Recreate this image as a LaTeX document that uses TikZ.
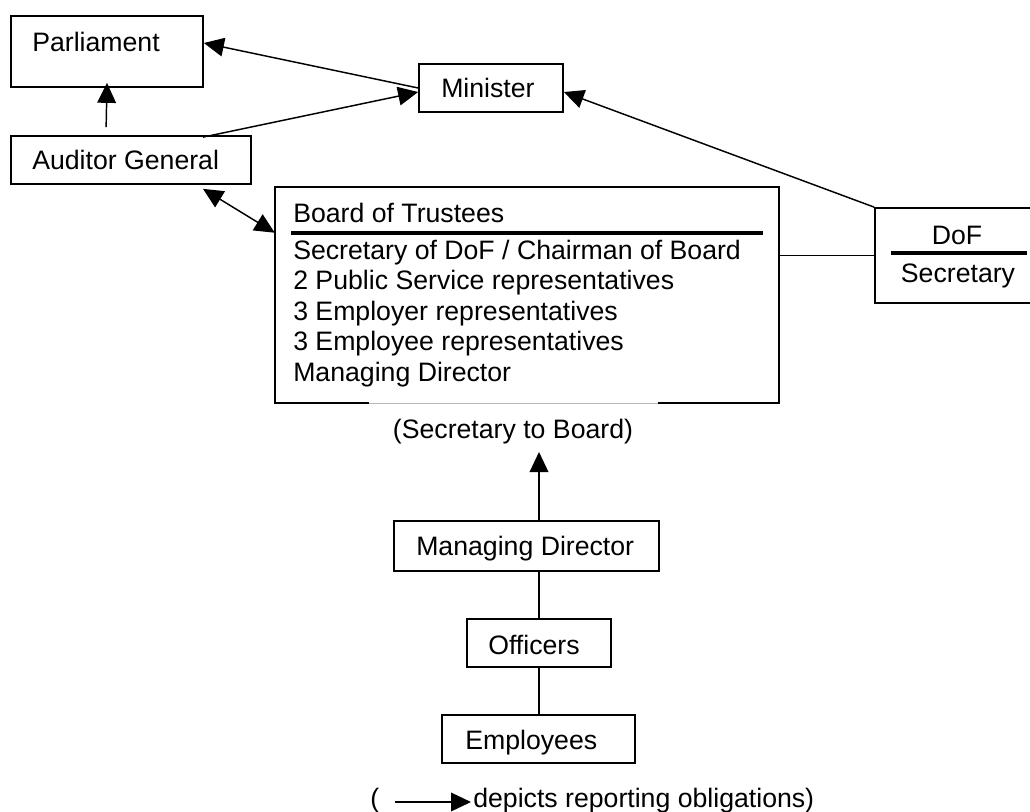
\documentclass[tikz,border=0pt]{standalone}
\usepackage{fontspec}
\setmainfont{Liberation Sans}
\usetikzlibrary{arrows.meta,fit,calc}
\begin{document}
\begin{tikzpicture}[x=0.75pt,y=-0.75pt,
  box/.style={draw, line width=1.3pt, inner sep=0pt},
  frame/.style={inner sep=0pt},
  txt/.style={inner sep=0pt, font=\fontsize{20}{24}\selectfont},
  conn/.style={line width=1.1pt},
  >={Triangle[length=15pt,width=14pt]},
  rep/.style={conn, ->},
  rule/.style={line width=3pt}]
\clip (0,0) rectangle (1030,812);
% boxes
\node[box, fit={(11,16) (203,87)}] (parl) {};
\node[txt, anchor=base west] at (32,52) {Parliament};
\node[box, fit={(419,64) (563,112)}] (min) {};
\node[txt, anchor=base west] at (441,98) {Minister};
\node[box, fit={(11,136) (251,184)}] (aud) {};
\node[txt, anchor=base west] at (32,170) {Auditor General};
% board
\node[frame, fit={(275,187) (779,403)}] (board) {};
\draw[line width=1.3pt] ($(board.south west)+(94,0)$) -| (board.north west) -| (board.south east) -- ($(board.south east)+(-121,0)$);
\draw[gray!55, line width=0.6pt] ($(board.south west)+(94,0)$) -- ($(board.south east)+(-121,0)$);
\node[txt, anchor=base west] at (293,223) {Board of Trustees};
\draw[rule] (291,233) -- (763,233);
\node[txt, anchor=base west] at (293,259.5) {Secretary of DoF / Chairman of Board};
\node[txt, anchor=base west] at (293,290) {2 Public Service representatives};
\node[txt, anchor=base west] at (293,320.5) {3 Employer representatives};
\node[txt, anchor=base west] at (293,351) {3 Employee representatives};
\node[txt, anchor=base west] at (293,381.5) {Managing Director};
% DoF
\node[box, fit={(875,208) (1045,303)}] (dof) {};
\node[txt, anchor=base] at (957,245) {DoF};
\draw[rule] (891,253) -- (1027,253);
\node[txt, anchor=base] at (958,283) {Secretary};
% lower chain
\node[txt, anchor=base] (sec) at (513,438) {(Secretary to Board)};
\node[box, fit={(394,521) (659,571)}] (md) {};
\node[txt, anchor=base west] at (416,555) {Managing Director};
\node[box, fit={(467,619) (611,667)}] (off) {};
\node[txt, anchor=base west] at (488,654) {Officers};
\node[box, fit={(442,715) (635,763)}] (emp) {};
\node[txt, anchor=base west] at (465,749) {Employees};
% connectors
\coordinate (audtop) at ($(aud.north west)+(96,-8)$);
\draw[rep] (audtop) -- ($(parl.south)+(0,-5)$);
\draw[rep] (min.west) -- ($(parl.east)+(0,-8.5)$);
\draw[rep] ($(aud.north)+(72,2)$) -- ($(min.west)+(0,4)$);
\draw[rep] (dof.north west) -- ($(min.east)+(0,4)$);
\draw[conn, <->] ($(aud.south)+(72,4)$) -- ($(board.north west)+(0,46)$);
\draw[conn] (dof.west) -- (dof.west -| board.east);
\coordinate (mdtop) at ($(md.north)+(12.5,0)$);
\coordinate (secarrow) at ($(sec.base)+(26,14)$);
\draw[rep] (mdtop) -- (secarrow);
\draw[conn] (off.north) -- (off.north |- md.south);
\draw[conn] (off.south) -- (off.south |- emp.north);
% legend
\node[txt, anchor=base west] (lp) at (370,807) {(};
\node[txt, anchor=base west] (leg) at (473,807) {depicts reporting obligations)};
\coordinate (legs) at ($(lp.base east)+(16,-5)$);
\coordinate (lege) at ($(leg.base west)+(-2,-5)$);
\draw[rep] (legs) -- (lege);
\end{tikzpicture}
\end{document}
